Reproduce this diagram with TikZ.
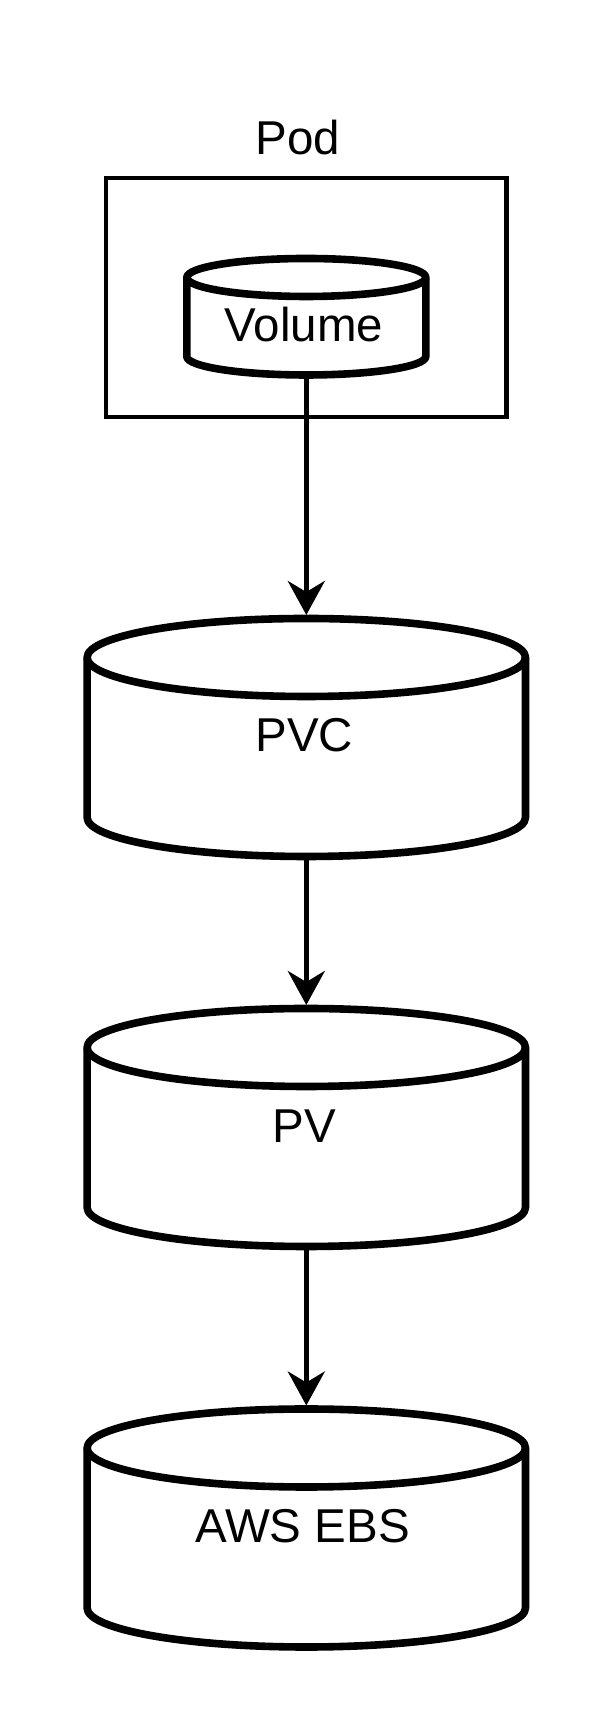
\documentclass[tikz,border=0pt]{standalone}
\usepackage{fontspec}
\setmainfont{Liberation Sans}
\usetikzlibrary{arrows.meta}
\newcommand\mycyl[6]{%
  \filldraw[cyl] ({#1-#2},#3) -- ({#1-#2},#4)
    arc[start angle=180, end angle=360, x radius=#2 pt, y radius=#6 pt]
    -- ({#1+#2},#3)
    arc[start angle=0, end angle=180, x radius=#2 pt, y radius=#5 pt] -- cycle;
  \draw[cyl, fill=none] ({#1-#2},#3) arc[start angle=180, end angle=360, x radius=#2 pt, y radius=#5 pt];
}
\begin{document}
\begin{tikzpicture}[x=1pt,y=1pt,
  cyl/.style={line width=7.6pt, fill=white, draw=black, line join=round},
  conn/.style={line width=4.4pt, draw=black, -{Stealth[length=34pt,width=37pt,inset=11pt]}},
  lbl/.style={font=\fontsize{47.5}{54}\selectfont, anchor=base, inner sep=0pt, outer sep=0pt},
  hold/.style={inner sep=0pt, outer sep=0pt, draw=none}]
\useasboundingbox (0,0) rectangle (612,1732);

% Pod box and label
\node[draw=black, line width=4.4pt, minimum width=400.5pt, minimum height=238.7pt, inner sep=0pt, outer sep=0pt] (pod) at (306.3,1434.35) {};
\node[lbl] (podlbl) at (298,1577) {Pod};

% Volume cylinder
\mycyl{306.3}{119.5}{1454.5}{1375.5}{19}{18.5}
\node[hold, minimum width=246.3pt, minimum height=123.3pt] (vol) at (306.3,1415.35) {};
\node[lbl] (voltxt) at (303.8,1390.3) {Volume};

% PVC cylinder
\mycyl{306.3}{219.2}{1074.5}{914.5}{39}{39}
\node[hold, minimum width=446pt, minimum height=245pt] (pvc) at (306.3,994.5) {};
\node[lbl] (pvctxt) at (304.2,980.3) {PVC};

% PV cylinder
\mycyl{306.3}{219.2}{684.5}{524.5}{39}{39}
\node[hold, minimum width=446pt, minimum height=245pt] (pv) at (306.3,604.5) {};
\node[lbl] (pvtxt) at (304.2,589) {PV};

% AWS EBS cylinder
\mycyl{306.3}{219.2}{284}{124}{39}{39}
\node[hold, minimum width=446pt, minimum height=245pt] (ebs) at (306.3,204) {};
\node[lbl] (ebstxt) at (302.5,189) {AWS EBS};

% connectors
\draw[conn] (vol.south) -- (pvc.north);
\draw[conn] (pvc.south) -- (pv.north);
\draw[conn] (pv.south) -- (ebs.north);
\end{tikzpicture}
\end{document}
